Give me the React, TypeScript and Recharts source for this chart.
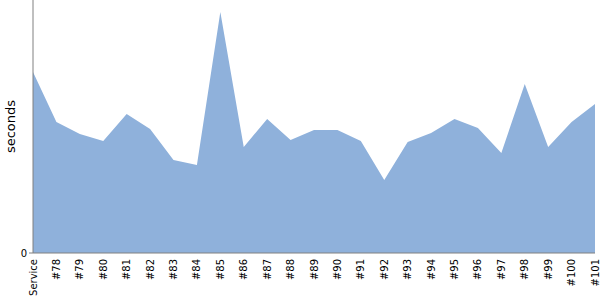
import React from 'react';
import { AreaChart, Area, XAxis, YAxis } from 'recharts';

const builds = [
  'Service', '#78', '#79', '#80', '#81', '#82', '#83', '#84', '#85', '#86', '#87', '#88', '#89',
  '#90', '#91', '#92', '#93', '#94', '#95', '#96', '#97', '#98', '#99', '#100', '#101',
];
const seconds = [
  18.1, 13.1, 11.9, 11.2, 13.9, 12.4, 9.3, 8.8, 24.1, 10.6, 13.4, 11.3, 12.3,
  12.3, 11.2, 7.3, 11.1, 12.0, 13.4, 12.5, 10.0, 16.9, 10.6, 13.1, 14.9,
];
const yTicks = [0];

const data = builds.map((b, i) => ({ name: b, value: seconds[i] }));

const font = "'DejaVu Sans', sans-serif";

const XTick = (props: any) => {
  const { x, y, payload } = props;
  return (
    <g transform={`translate(${x},${y})`}>
      <text transform="rotate(-90)" x={2} y={0} dy="0.35em" textAnchor="end" fontSize={10} fill="#000" style={{ fontFamily: font }}>
        {payload.value}
      </text>
    </g>
  );
};

const YTitle = (props: any) => {
  const vb = props.viewBox || { y: 0, height: 253 };
  const cy = vb.y + vb.height / 2;
  return (
    <text x={10} y={cy} transform={`rotate(-90, 10, ${cy})`} textAnchor="middle" dy="0.35em" fontSize={13} fill="#000" style={{ fontFamily: font }}>
      seconds
    </text>
  );
};

const App: React.FC = () => {
  return (
    <div style={{ position: 'absolute', left: 0, top: 0, width: 600, height: 300, background: '#fff' }}>
      <AreaChart width={600} height={300} data={data} margin={{ top: 0, right: 5, left: 0, bottom: 0 }}>
        <XAxis
          dataKey="name"
          height={47}
          interval={0}
          tickLine={false}
          tick={<XTick />}
          stroke="#808080"
        />
        <YAxis
          width={33}
          domain={[0, 25.3]}
          ticks={yTicks}
          tickSize={4}
          stroke="#808080"
          tick={{ fontSize: 10, fill: '#000', style: { fontFamily: font } }}
          label={<YTitle />}
        />
        <Area
          type="linear"
          dataKey="value"
          stroke="none"
          fill="#8FB1DB"
          fillOpacity={1}
          isAnimationActive={false}
        />
      </AreaChart>
    </div>
  );
};

export default App;
